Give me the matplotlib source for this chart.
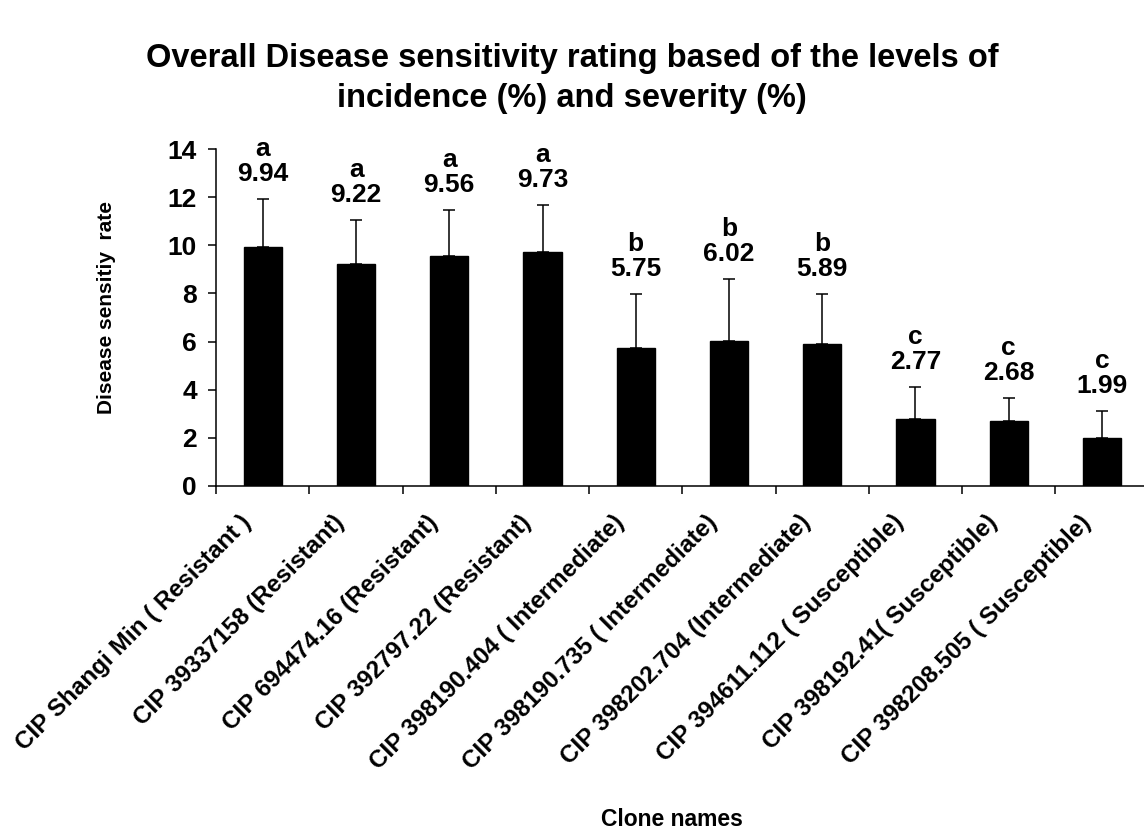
import numpy as np
import matplotlib
matplotlib.use("Agg")
import matplotlib.pyplot as plt
from matplotlib.transforms import ScaledTranslation

plt.rcParams['font.family'] = ['Liberation Sans', 'DejaVu Sans']
plt.rcParams['font.weight'] = 'bold'

# Data
clones = ['CIP Shangi Min ( Resistant )', 'CIP 39337158 (Resistant)',
          'CIP 694474.16 (Resistant)', 'CIP 392797.22 (Resistant)',
          'CIP 398190.404 ( Intermediate)', 'CIP 398190.735 ( Intermediate)',
          'CIP 398202.704 (Intermediate)', 'CIP 394611.112 ( Susceptible)',
          'CIP 398192.41( Susceptible)', 'CIP 398208.505 ( Susceptible)']
rates = [9.94, 9.22, 9.56, 9.73, 5.75, 6.02, 5.89, 2.77, 2.68, 1.99]
errors = [1.98, 1.83, 1.89, 1.94, 2.21, 2.58, 2.07, 1.34, 0.98, 1.13]
groups = ['a', 'a', 'a', 'a', 'b', 'b', 'b', 'c', 'c', 'c']

fig = plt.figure(figsize=(11.44, 8.33), dpi=100)
ax = fig.add_axes([0.189, 0.4166, 0.815, 0.4044])

x = np.arange(len(clones)) + 0.5
ax.bar(x, rates, width=0.41, color='black', edgecolor='black', zorder=2)
ax.errorbar(x, rates, yerr=[np.zeros(len(errors)), errors], fmt='none',
            ecolor='black', elinewidth=1.1, capsize=4, capthick=1.1, zorder=3)

# group letter and mean value above each error bar
for xi, r, e, g in zip(x, rates, errors, groups):
    ax.text(xi, r + e + 0.55, f'{g}\n{r:.2f}', ha='center', va='bottom',
            fontsize=19, fontweight='bold', linespacing=1.05, clip_on=False)

ax.set_xlim(0, len(clones))
ax.set_ylim(0, 14)
ax.set_yticks(np.arange(0, 15, 2))
ax.tick_params(axis='y', direction='out', length=6, width=1.1, labelsize=19, pad=8)

# boundary ticks without labels, clone names drawn slanted under each bar
ax.set_xticks(np.arange(0, len(clones) + 1))
ax.set_xticklabels([])
ax.tick_params(axis='x', which='major', direction='out', length=6, width=1.1)
label_trans = ax.get_xaxis_transform() + ScaledTranslation(-0.15, -0.33, fig.dpi_scale_trans)
for xi, name in zip(x, clones):
    ax.text(xi, 0, name, transform=label_trans, rotation=45, ha='right', va='center',
            rotation_mode='anchor', fontsize=17.5, fontweight='bold', clip_on=False)

for side in ['top', 'right']:
    ax.spines[side].set_visible(False)
for side in ['left', 'bottom']:
    ax.spines[side].set_linewidth(1.1)

ax.set_ylabel('Disease sensitiy  rate', fontsize=15, fontweight='bold')
ax.yaxis.set_label_coords(-0.108, 0.53)
fig.text(0.587, 0.016, 'Clone names', ha='center', va='center',
         fontsize=16.5, fontweight='bold')
fig.text(0.5, 0.906, 'Overall Disease sensitivity rating based of the levels of\n'
         'incidence (%) and severity (%)', ha='center', va='center',
         fontsize=23.5, fontweight='bold', linespacing=1.4)

fig.savefig('out.png', dpi=100)
